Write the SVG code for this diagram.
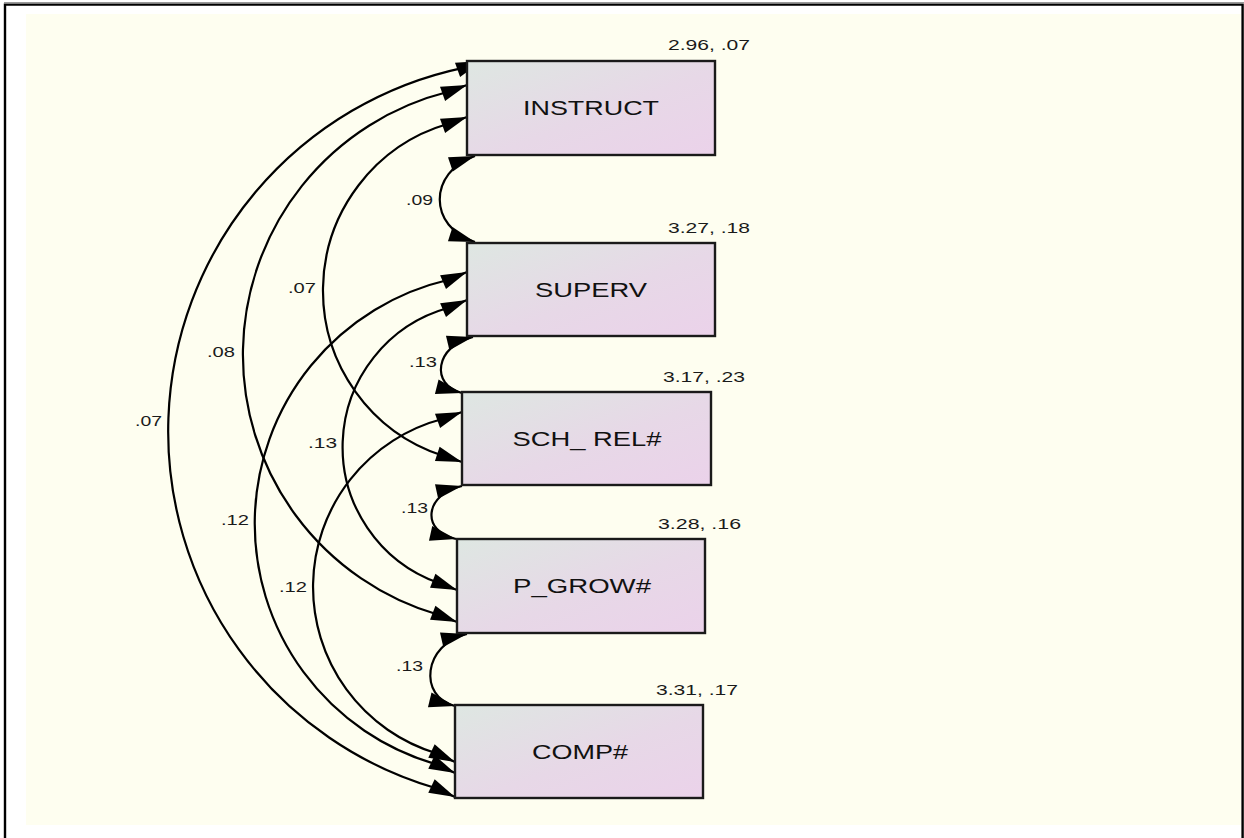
<svg xmlns="http://www.w3.org/2000/svg" width="1244" height="838" viewBox="0 0 1244 838">
<style>
.frame{fill:none;stroke:#000;stroke-width:2.4}
.box{stroke:#1a1a1a;stroke-width:2.4;fill:url(#boxfill)}
.name{font-family:"Liberation Sans",Arial,sans-serif;font-size:21px;fill:#111;text-anchor:middle}
.val{font-family:"Liberation Sans",Arial,sans-serif;font-size:15px;fill:#1a1a1a;text-anchor:end}
.cor{font-family:"Liberation Sans",Arial,sans-serif;font-size:15px;fill:#1a1a1a}
.arc{fill:none;stroke:#000;stroke-width:2.2;marker-start:url(#headS);marker-end:url(#headE)}
</style>
<defs>
<linearGradient id="boxfill" x1="0" y1="0" x2="1" y2="1">
<stop offset="0" stop-color="#DEE7E2"/>
<stop offset="0.55" stop-color="#E7D8E7"/>
<stop offset="1" stop-color="#EBD2EA"/>
</linearGradient>
<marker id="headE" markerUnits="userSpaceOnUse" markerWidth="26" markerHeight="15" refX="26" refY="7.5" orient="auto" overflow="visible">
<path d="M0,0 L26,7.5 L0,15 Z" fill="#000"/>
</marker>
<marker id="headS" markerUnits="userSpaceOnUse" markerWidth="26" markerHeight="15" refX="26" refY="7.5" orient="auto-start-reverse" overflow="visible">
<path d="M0,0 L26,7.5 L0,15 Z" fill="#000"/>
</marker>
</defs>
<rect x="0" y="0" width="1244" height="838" fill="#fff"/>
<rect x="26" y="14" width="1215" height="811" fill="#FEFEF0"/>
<line x1="4" y1="2.5" x2="1244" y2="2.5" stroke="#999" stroke-width="1"/>
<path class="frame" d="M5,838 V4.6 H1242.6 V838"/>
<g id="connectors">
<path class="arc" d="M482,61 L463.2,67.8 A371.6,371.6 0 0 0 436.9,788.5 L455,797"/>
<path class="arc" d="M467,85 L448.2,91.8 A270.9,270.9 0 0 0 438.3,614.8 L457,622"/>
<path class="arc" d="M467,117 L448.2,123.8 A173.7,173.7 0 0 0 443,455.8 L462,462"/>
<path class="arc" d="M467,272 L448.6,279.8 A250.3,250.3 0 0 0 436.9,764.5 L455,773"/>
<path class="arc" d="M467,300 L448.6,307.8 A144.3,144.3 0 0 0 438.3,582.8 L457,590"/>
<path class="arc" d="M462,412 L443.2,418.8 A173.8,173.8 0 0 0 436.9,753.5 L455,762"/>
<path class="arc" d="M475,156 C428,172 428,227 475,242"/>
<path class="arc" d="M473,337 C435,346 430,385 462,393"/>
<path class="arc" d="M462,486 C425,494 420,531 456,539"/>
<path class="arc" d="M467,634 C423,644 418,697 455,706"/>
<text class="cor" x="406" y="205" textLength="27" lengthAdjust="spacingAndGlyphs">.09</text>
<text class="cor" x="288" y="293" textLength="28" lengthAdjust="spacingAndGlyphs">.07</text>
<text class="cor" x="207" y="357" textLength="28" lengthAdjust="spacingAndGlyphs">.08</text>
<text class="cor" x="135" y="426" textLength="27" lengthAdjust="spacingAndGlyphs">.07</text>
<text class="cor" x="409" y="367" textLength="28" lengthAdjust="spacingAndGlyphs">.13</text>
<text class="cor" x="401" y="513" textLength="27" lengthAdjust="spacingAndGlyphs">.13</text>
<text class="cor" x="396" y="671" textLength="27" lengthAdjust="spacingAndGlyphs">.13</text>
<text class="cor" x="308" y="448" textLength="29" lengthAdjust="spacingAndGlyphs">.13</text>
<text class="cor" x="221" y="525" textLength="28" lengthAdjust="spacingAndGlyphs">.12</text>
<text class="cor" x="279" y="592" textLength="28" lengthAdjust="spacingAndGlyphs">.12</text>
</g>
<g id="node-instruct">
<rect class="box" x="467" y="61" width="248" height="94"/>
<text class="name" x="591" y="115" textLength="136" lengthAdjust="spacingAndGlyphs">INSTRUCT</text>
<text class="val" x="750" y="50" textLength="82" lengthAdjust="spacingAndGlyphs">2.96, .07</text>
</g>
<g id="node-superv">
<rect class="box" x="467" y="243" width="248" height="93"/>
<text class="name" x="591" y="297" textLength="112" lengthAdjust="spacingAndGlyphs">SUPERV</text>
<text class="val" x="750" y="233" textLength="82" lengthAdjust="spacingAndGlyphs">3.27, .18</text>
</g>
<g id="node-sch-rel">
<rect class="box" x="462" y="392" width="249" height="93"/>
<text class="name" x="587" y="446" textLength="149" lengthAdjust="spacingAndGlyphs">SCH_ REL#</text>
<text class="val" x="745" y="382" textLength="82" lengthAdjust="spacingAndGlyphs">3.17, .23</text>
</g>
<g id="node-p-grow">
<rect class="box" x="457" y="539" width="248" height="94"/>
<text class="name" x="582" y="593" textLength="138" lengthAdjust="spacingAndGlyphs">P_GROW#</text>
<text class="val" x="741" y="529" textLength="83" lengthAdjust="spacingAndGlyphs">3.28, .16</text>
</g>
<g id="node-comp">
<rect class="box" x="455" y="705" width="248" height="93"/>
<text class="name" x="580" y="759" textLength="96" lengthAdjust="spacingAndGlyphs">COMP#</text>
<text class="val" x="738" y="695" textLength="82" lengthAdjust="spacingAndGlyphs">3.31, .17</text>
</g>
</svg>
